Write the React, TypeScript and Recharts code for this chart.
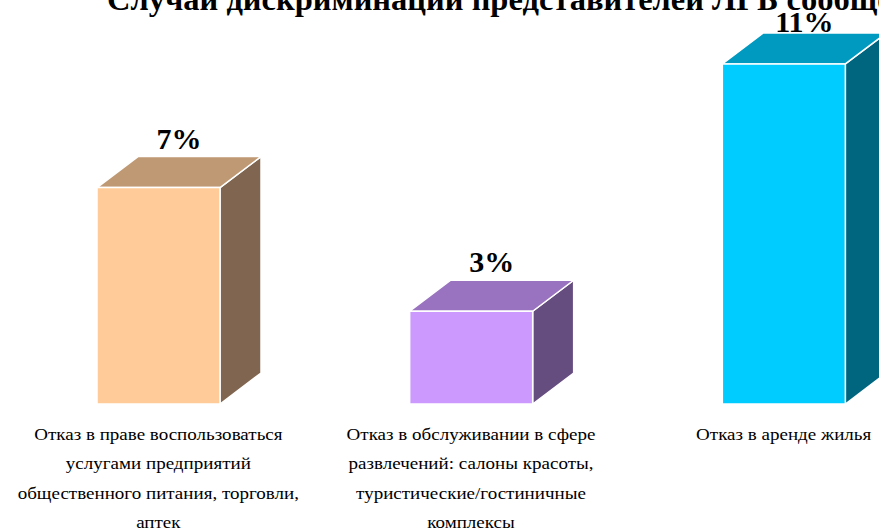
import React from 'react';
import { BarChart, Bar, XAxis, YAxis, LabelList } from 'recharts';

const categories = [
  'Отказ в праве воспользоваться услугами предприятий общественного питания, торговли, аптек',
  'Отказ в обслуживании в сфере развлечений: салоны красоты, туристические/гостиничные комплексы',
  'Отказ в аренде жилья',
];
const categoryLines = [
  ['Отказ в праве воспользоваться', 'услугами предприятий', 'общественного питания, торговли,', 'аптек'],
  ['Отказ в обслуживании в сфере', 'развлечений: салоны красоты,', 'туристические/гостиничные', 'комплексы'],
  ['Отказ в аренде жилья'],
];
const values = [7, 3, 11];

const frontColors = ['#FFCC99', '#CC99FF', '#00CCFF'];
const topColors = ['#BF9973', '#9973BF', '#0099BF'];
const sideColors = ['#806650', '#664D80', '#006680'];

const title = 'Случаи дискриминации представителей ЛГБ сообщества';

const DX = 41;
const DY = 31;
const FONT = 'Liberation Serif, Times New Roman, serif';

const data = categories.map((name, i) => ({ name, value: values[i], idx: i }));

const Box3D = (props: any) => {
  const { x, y, width, height, payload } = props;
  const i = payload.idx;
  const top = `${x},${y} ${x + DX},${y - DY} ${x + width + DX},${y - DY} ${x + width},${y}`;
  const side = `${x + width},${y} ${x + width + DX},${y - DY} ${x + width + DX},${y + height - DY} ${x + width},${y + height}`;
  return (
    <g stroke="#ffffff" strokeWidth={1.5} strokeLinejoin="round">
      <polygon points={side} fill={sideColors[i]} />
      <polygon points={top} fill={topColors[i]} />
      <rect x={x} y={y} width={width} height={height} fill={frontColors[i]} />
    </g>
  );
};

const ValueLabel = (props: any) => {
  const { x, y, width, value } = props;
  const ly = Math.max(y - DY - 8, 32);
  return (
    <text x={x + width / 2 + DX / 2} y={ly} textAnchor="middle" fontFamily={FONT} fontWeight="bold" fontSize={30} fill="#000">
      {value}%
    </text>
  );
};

const CategoryTick = (props: any) => {
  const { x, y, index } = props;
  const lines = categoryLines[index] || [];
  return (
    <g transform={`translate(${x},0) scale(1.12,1)`}>
      {lines.map((ln, k) => (
        <text key={k} x={0} y={y + 28 + k * 29.3} textAnchor="middle" fontFamily={FONT} fontSize={17} fill="#000">
          {ln}
        </text>
      ))}
    </g>
  );
};

export default function App() {
  return (
    <div style={{ position: 'absolute', left: 0, top: 0, width: 879, height: 530, overflow: 'hidden', background: '#fff' }}>
      <BarChart width={942} height={530} data={data} margin={{ top: 33, right: 2, left: 2, bottom: 0 }} barSize={123}>
        <XAxis dataKey="name" axisLine={false} tickLine={false} height={126} interval={0} tick={<CategoryTick />} />
        <YAxis hide domain={[0, 12]} />
        <Bar dataKey="value" shape={<Box3D />} isAnimationActive={false}>
          <LabelList dataKey="value" content={<ValueLabel />} />
        </Bar>
      </BarChart>
      <svg width={879} height={530} style={{ position: 'absolute', left: 0, top: 0, pointerEvents: 'none' }}>
        <text x={107} y={10} fontFamily={FONT} fontWeight="bold" fontSize={32.5} fill="#000">
          {title}
        </text>
      </svg>
    </div>
  );
}
